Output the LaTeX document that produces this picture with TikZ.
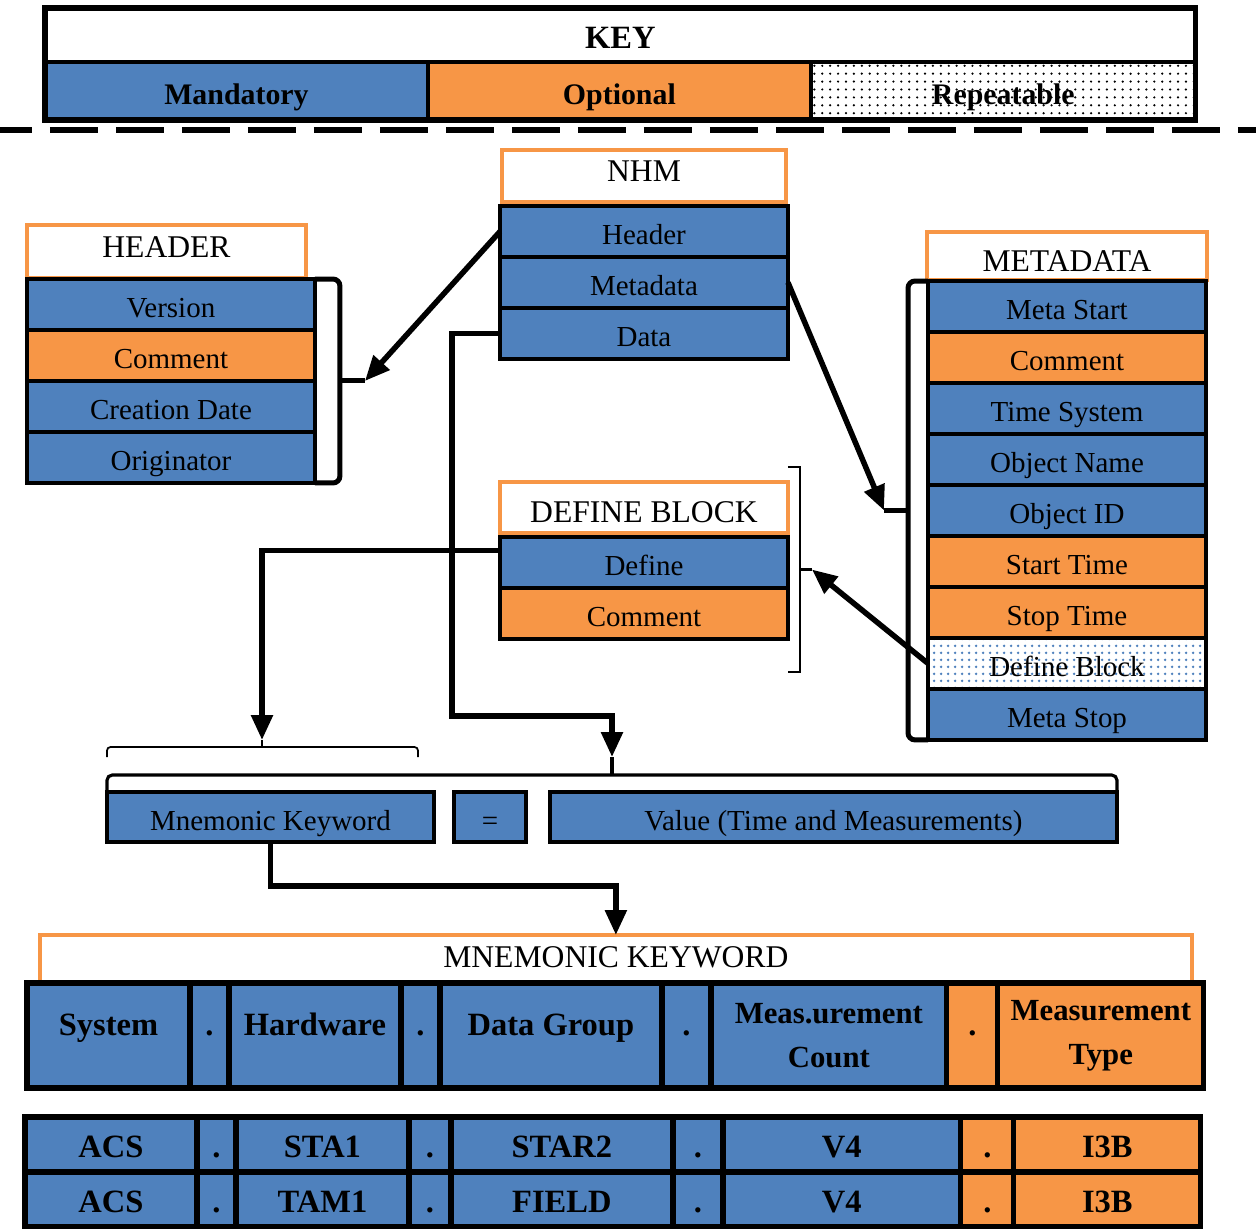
\documentclass[tikz,border=0pt]{standalone}
\usepackage{fontspec}
\setmainfont{Liberation Serif}
\usetikzlibrary{calc,positioning,arrows.meta,patterns,patterns.meta}
\definecolor{mblue}{RGB}{79,129,189}
\definecolor{morange}{RGB}{247,150,70}
\newcommand{\nhmfont}{\fontsize{16.5}{19}\selectfont}
\newcommand{\nhmtitle}{\fontsize{18}{21}\selectfont}
\newcommand{\nhmbold}{\fontsize{17}{25}\selectfont\bfseries}
\newcommand{\nhmbig}{\fontsize{18.5}{25}\selectfont\bfseries}
\newcommand{\nhmtwo}{\fontsize{17.5}{25}\selectfont\bfseries}

\tikzset{
    cell/.style={draw=black, line width=2.3pt, outer sep=0pt, inner sep=0pt, minimum height=1.02cm, font=\nhmfont, text height=15pt, text depth=0.2pt, anchor=north west},
    mand/.style={cell, fill=mblue},
    opt/.style={cell, fill=morange},
    rep/.style={cell, pattern={Dots[radius=0.9pt, distance=4pt]}, pattern color=mblue},
    ttl/.style={draw=morange, line width=2.5pt, fill=white, outer sep=0pt, inner sep=0pt, font=\nhmtitle, anchor=north west},
    ttlup/.style={ttl, text height=7pt, text depth=0.2pt},
    ttldown/.style={ttl, text height=17.5pt, text depth=0.2pt},
    bcell/.style={line width=3pt, font=\nhmbig},
    bmid/.style={bcell, text height=6pt, text depth=6pt},
    btwo/.style={bcell, font=\nhmtwo, align=center, text height=, text depth=},
    arr/.style={line width=0.11cm, -{Triangle[length=0.5cm, width=0.42cm]}},
    brk/.style={line width=0.1cm, rounded corners=4pt},
    thinbrk/.style={line width=1.3pt},
}

\begin{document}
\begin{tikzpicture}[x=0.02cm, y=-0.02cm]
                \useasboundingbox (0,0) rectangle (1256,1228);

                % key
                \node[ttl, draw=black, line width=2.8pt, minimum width=23.02cm, minimum height=1.08cm, font=\nhmbig, text height=16pt, text depth=0.2pt] (key) at (45,8) {KEY};
                \node[mand, minimum width=7.66cm, minimum height=1.16cm, font=\nhmbold] (kmand) at (45,62) {Mandatory};
                \node[opt, minimum width=7.66cm, minimum height=1.16cm, font=\nhmbold, right=0pt of kmand] (kopt) {Optional};
                \node[cell, pattern={Dots[radius=0.7pt, distance=4.5pt]}, pattern color=black, minimum width=7.7cm, minimum height=1.16cm, font=\nhmbold, right=0pt of kopt] (krep) {Repeatable};
                \draw[line width=3pt] (key.north west) rectangle (krep.south east);

                \draw[line width=0.12cm, dash pattern=on 0.96cm off 0.36cm, dash phase=0.32cm] (0,130) -- (1256,130);

                % NHM
                \node[ttlup, minimum width=5.68cm, minimum height=1.04cm] (nttl) at (502,150) {NHM};
                \node[mand, minimum width=5.76cm] (nhead) at (500,206) {Header};
                \node[mand, minimum width=5.76cm, below=0pt of nhead] (nmeta) {Metadata};
                \node[mand, minimum width=5.76cm, below=0pt of nmeta] (ndata) {Data};

                % HEADER
                \node[ttlup, minimum width=5.58cm, minimum height=1.06cm] (httl) at (27,225) {HEADER};
                \node[mand, minimum width=5.76cm] (hver) at (27,279) {Version};
                \node[opt, minimum width=5.76cm, below=0pt of hver] (hcom) {Comment};
                \node[mand, minimum width=5.76cm, below=0pt of hcom] (hdate) {Creation Date};
                \node[mand, minimum width=5.76cm, below=0pt of hdate] (hori) {Originator};

                % METADATA
                \node[ttldown, minimum width=5.6cm, minimum height=0.96cm] (mttl) at (927,232) {METADATA};
                \node[mand, minimum width=5.56cm] (mms) at (928,281) {Meta Start};
                \node[opt, minimum width=5.56cm, below=0pt of mms] (mcom) {Comment};
                \node[mand, minimum width=5.56cm, below=0pt of mcom] (mtsys) {Time System};
                \node[mand, minimum width=5.56cm, below=0pt of mtsys] (mname) {Object Name};
                \node[mand, minimum width=5.56cm, below=0pt of mname] (mid) {Object ID};
                \node[opt, minimum width=5.56cm, below=0pt of mid] (mstart) {Start Time};
                \node[opt, minimum width=5.56cm, below=0pt of mstart] (mstp) {Stop Time};
                \node[rep, minimum width=5.56cm, below=0pt of mstp] (mdef) {Define Block};
                \node[mand, minimum width=5.56cm, below=0pt of mdef] (mstop) {Meta Stop};

                % DEFINE BLOCK
                \node[ttldown, minimum width=5.76cm, minimum height=1.02cm] (dttl) at (500,482) {DEFINE BLOCK};
                \node[mand, minimum width=5.76cm] (dfn) at (500,537) {Define};
                \node[opt, minimum width=5.76cm, below=0pt of dfn] (dcom) {Comment};

                % brackets and arrows
                \draw[brk] (hver.north east) -- ++(25,0) |- (hori.south east);
                \coordinate (hmid) at ($(hver.north east)!0.5!(hori.south east)+(25,0)$);
                \coordinate (htip) at ($(hmid)+(25,0)$);
                \draw[brk] (htip) -- (hmid);
                \draw[arr] (nhead.west) -- (htip);

                \draw[brk] (mms.north west) -- ++(-20,0) |- (mstop.south west);
                \coordinate (mmid) at ($(mms.north west)!0.5!(mstop.south west)+(-20,0)$);
                \coordinate (mtip) at ($(mmid)+(-24,0)$);
                \draw[brk] (mtip) -- (mmid);
                \draw[arr] (nmeta.east) -- (mtip);

                \coordinate (dtop) at ($(dttl.north east)+(12,-15)$);
                \coordinate (dbot) at ($(dcom.south east)+(12,33)$);
                \draw[thinbrk] ($(dtop)+(-12,0)$) -- (dtop) -- (dbot) -- ++(-12,0);
                \coordinate (dmid) at ($(dtop)!0.5!(dbot)$);
                \coordinate (dtip) at ($(dmid)+(12,0)$);
                \draw[line width=2pt] (dtip) -- (dmid);
                \draw[arr] (mdef.west) -- (dtip);

                % value line
                \node[mand, minimum width=6.54cm, minimum height=1.0cm] (mkey) at (107,792) {Mnemonic Keyword};
                \node[mand, minimum width=1.44cm, minimum height=1.0cm, right=0.4cm of mkey] (eq) {=};
                \node[mand, minimum width=11.34cm, minimum height=1.0cm, right=0.48cm of eq] (val) {Value (Time and Measurements)};

                \draw[thinbrk, line width=1pt, rounded corners=2pt] (107,757) -- (107,747) -- (418,747) -- (418,757);
                \draw[thinbrk, line width=1pt] (262,747) -- (262,740) coordinate (kbr);
                \draw[line width=1.8pt, rounded corners=3pt] (107,790) -- (107,775) -- (1117,775) -- (1117,790);
                \draw[line width=1.8pt] (612,775) -- (612,757) coordinate (vbr);

                \draw[arr] ([yshift=0.24cm]dfn.west) -| (kbr);
                \draw[arr] (ndata.west) -| (452,716) -| (vbr);

                % mnemonic keyword
                \node[ttl, minimum width=23.04cm, minimum height=0.96cm, text height=10pt, text depth=0.2pt] (mkt) at (40,935) {MNEMONIC KEYWORD};
                \draw[arr] (mkey.south) -- ++(0,44) -| (mkt.north);

                \node[mand, bmid, minimum width=3.26cm, minimum height=2.1cm] (ksys) at (27,983) {System};
                \node[mand, bmid, minimum width=0.78cm, minimum height=2.1cm, right=0pt of ksys] (kd1) {.};
                \node[mand, bmid, minimum width=3.44cm, minimum height=2.1cm, right=0pt of kd1] (khw) {Hardware};
                \node[mand, bmid, minimum width=0.78cm, minimum height=2.1cm, right=0pt of khw] (kd2) {.};
                \node[mand, bmid, minimum width=4.44cm, minimum height=2.1cm, right=0pt of kd2] (kdg) {Data Group};
                \node[mand, bmid, minimum width=0.98cm, minimum height=2.1cm, right=0pt of kdg] (kd3) {.};
                \node[mand, btwo, minimum width=4.72cm, minimum height=2.1cm, right=0pt of kd3] (kmc) {Meas.urement\\Count};
                \node[opt, bmid, minimum width=1.02cm, minimum height=2.1cm, right=0pt of kmc] (kd4) {.};
                \node[opt, btwo, minimum width=4.12cm, minimum height=2.1cm, right=0pt of kd4] (kmt) {Measurement\\Type};

                % examples
                \node[mand, bcell, minimum width=3.44cm, minimum height=1.1cm] (asys) at (25,1117) {ACS};
                \node[mand, bcell, minimum width=0.78cm, minimum height=1.1cm, right=0pt of asys] (ad1) {.};
                \node[mand, bcell, minimum width=3.46cm, minimum height=1.1cm, right=0pt of ad1] (ahw) {STA1};
                \node[mand, bcell, minimum width=0.84cm, minimum height=1.1cm, right=0pt of ahw] (ad2) {.};
                \node[mand, bcell, minimum width=4.44cm, minimum height=1.1cm, right=0pt of ad2] (adg) {STAR2};
                \node[mand, bcell, minimum width=1.0cm, minimum height=1.1cm, right=0pt of adg] (ad3) {.};
                \node[mand, bcell, minimum width=4.76cm, minimum height=1.1cm, right=0pt of ad3] (amc) {V4};
                \node[opt, bcell, minimum width=1.06cm, minimum height=1.1cm, right=0pt of amc] (ad4) {.};
                \node[opt, bcell, minimum width=3.74cm, minimum height=1.1cm, right=0pt of ad4] (amt) {I3B};

                \node[mand, bcell, minimum width=3.44cm, minimum height=1.1cm, below=0pt of asys] (bsys) {ACS};
                \node[mand, bcell, minimum width=0.78cm, minimum height=1.1cm, right=0pt of bsys] (bd1) {.};
                \node[mand, bcell, minimum width=3.46cm, minimum height=1.1cm, right=0pt of bd1] (bhw) {TAM1};
                \node[mand, bcell, minimum width=0.84cm, minimum height=1.1cm, right=0pt of bhw] (bd2) {.};
                \node[mand, bcell, minimum width=4.44cm, minimum height=1.1cm, right=0pt of bd2] (bdg) {FIELD};
                \node[mand, bcell, minimum width=1.0cm, minimum height=1.1cm, right=0pt of bdg] (bd3) {.};
                \node[mand, bcell, minimum width=4.76cm, minimum height=1.1cm, right=0pt of bd3] (bmc) {V4};
                \node[opt, bcell, minimum width=1.06cm, minimum height=1.1cm, right=0pt of bmc] (bd4) {.};
                \node[opt, bcell, minimum width=3.74cm, minimum height=1.1cm, right=0pt of bd4] (bmt) {I3B};

\end{tikzpicture}
\end{document}
